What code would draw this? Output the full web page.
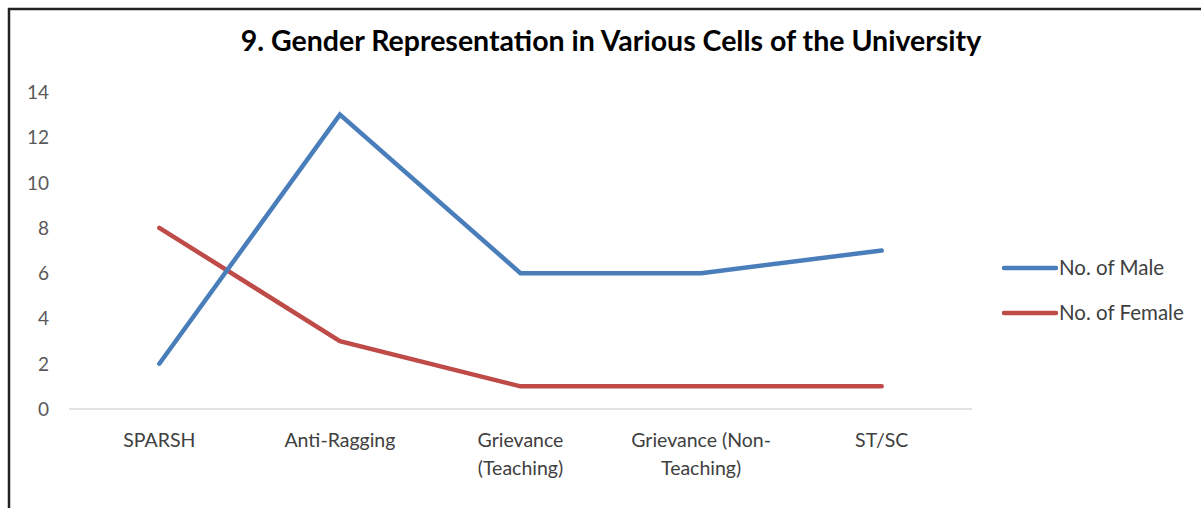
<!DOCTYPE html>
<html>
<head>
<meta charset="utf-8">
<script src="https://cdn.jsdelivr.net/npm/d3@7"></script>
<style>
  body { margin: 0; background: #fff; }
  svg text { font-family: Lato, "Open Sans", sans-serif; }
</style>
</head>
<body>
<div id="chart"></div>
<script>
// chart data
var categories = [["SPARSH"], ["Anti-Ragging"], ["Grievance", "(Teaching)"], ["Grievance (Non-", "Teaching)"], ["ST/SC"]];
var maleValues = [2, 13, 6, 6, 7];
var femaleValues = [8, 3, 1, 1, 1];
var yTicks = [0, 2, 4, 6, 8, 10, 12, 14];
var seriesNames = ["No. of Male", "No. of Female"];

var width = 1201,
  height = 508,
  margin = { top: 92, left: 69, right: 229, bottom: 99 };

var svg = d3
  .select("#chart")
  .append("svg")
  .attr("width", width)
  .attr("height", height);

// outer frame
svg
  .append("rect")
  .attr("x", 9)
  .attr("y", 9)
  .attr("width", width + 20)
  .attr("height", height + 20)
  .attr("fill", "#fff")
  .attr("stroke", "#222")
  .attr("stroke-width", 2.5);

// title
svg
  .append("text")
  .attr("x", 611)
  .attr("y", 51)
  .attr("text-anchor", "middle")
  .style("font-size", "28.5px")
  .style("font-weight", "bold")
  .style("fill", "#000")
  .text("9. Gender Representation in Various Cells of the University");

var x = d3
  .scaleBand()
  .domain(d3.range(categories.length))
  .range([margin.left, width - margin.right]);

var y = d3
  .scaleLinear()
  .domain([0, 14])
  .range([height - margin.bottom, margin.top]);

// baseline
svg
  .append("line")
  .attr("x1", x.range()[0])
  .attr("x2", x.range()[1])
  .attr("y1", y(0))
  .attr("y2", y(0))
  .attr("stroke", "#d9d9d9")
  .attr("stroke-width", 1.5);

// y tick labels
svg
  .selectAll(".ytick")
  .data(yTicks)
  .enter()
  .append("text")
  .attr("x", 49)
  .attr("y", function (d) {
    return y(d) + 7;
  })
  .attr("text-anchor", "end")
  .style("font-size", "19px")
  .style("fill", "#595959")
  .text(function (d) {
    return d;
  });

// x labels
var xLabels = svg
  .selectAll(".xlabel")
  .data(categories)
  .enter()
  .append("text")
  .attr("text-anchor", "middle")
  .style("font-size", "19.5px")
  .style("fill", "#404040")
  .attr("transform", function (d, i) {
    return "translate(" + (x(i) + x.bandwidth() / 2) + "," + 447 + ")";
  });

xLabels
  .selectAll("tspan")
  .data(function (d) {
    return d;
  })
  .enter()
  .append("tspan")
  .attr("x", 0)
  .attr("dy", function (d, i) {
    return i === 0 ? 0 : 28;
  })
  .text(function (d) {
    return d;
  });

var line = d3
  .line()
  .x(function (d, i) {
    return x(i) + x.bandwidth() / 2;
  })
  .y(function (d) {
    return y(d);
  });

var colors = ["#4a7ebb", "#be4b48"];
var series = [maleValues, femaleValues];

// female drawn first, male on top
[1, 0].forEach(function (s) {
  svg
    .append("path")
    .datum(series[s])
    .attr("d", line)
    .attr("fill", "none")
    .attr("stroke", colors[s])
    .attr("stroke-width", 4.5)
    .attr("stroke-linejoin", "miter")
    .attr("stroke-linecap", "round");
});

// legend
var legend = svg
  .selectAll(".legend")
  .data(seriesNames)
  .enter()
  .append("g")
  .attr("transform", function (d, i) {
    return "translate(1004," + (268 + i * 45) + ")";
  });

legend
  .append("line")
  .attr("x1", 0)
  .attr("x2", 52)
  .attr("stroke", function (d, i) {
    return colors[i];
  })
  .attr("stroke-width", 4.5)
  .attr("stroke-linecap", "round");

legend
  .append("text")
  .attr("x", 55)
  .attr("y", 7)
  .style("font-size", "20.5px")
  .style("fill", "#404040")
  .text(function (d) {
    return d;
  });
</script>
</body>
</html>
